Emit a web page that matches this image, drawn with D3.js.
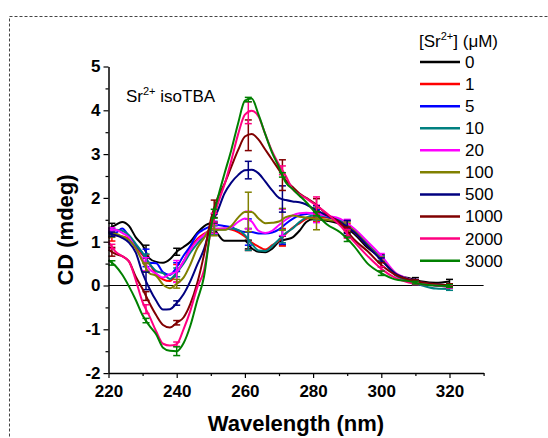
<!DOCTYPE html>
<html>
<head>
<meta charset="utf-8">
<script src="https://cdn.jsdelivr.net/npm/d3@7"></script>
<style>
  body { margin: 0; background: #fff; }
  svg { display: block; }
  text { font-family: Arial, "Liberation Sans", sans-serif; }
</style>
</head>
<body>
<svg id="chart" width="548" height="438"></svg>
<script>
// wavelengths (nm) shared by every spectrum
const wavelengths = [220,222,224,226,228,230,232,234,236,238,240,242,244,246,248,250,252,254,256,258,260,262,264,266,268,270,272,274,276,278,280,284,288,292,296,300,304,308,312,316,320];

const concentrations = ["0","1","5","10","20","100","500","1000","2000","3000"];
const colors = ["#000000","#ff0000","#0000ff","#008080","#ff00ff","#808000","#000080","#800000","#ff0080","#008000"];

// CD (mdeg), one array per [Sr2+]
const cd0    = [1.30,1.38,1.45,1.36,1.10,0.92,0.62,0.54,0.52,0.60,0.77,0.88,1.00,1.20,1.35,1.42,1.18,1.02,1.02,1.02,1.02,0.85,0.77,0.76,0.84,1.00,1.05,1.10,1.25,1.45,1.51,1.48,1.40,1.18,0.86,0.62,0.26,0.17,0.09,0.06,0.09];
const cd1    = [1.08,1.15,1.12,1.06,0.88,0.70,0.50,0.26,0.14,0.10,0.28,0.55,0.85,1.06,1.18,1.26,1.28,1.30,1.28,1.22,1.12,0.98,0.89,0.82,0.92,1.02,1.18,1.32,1.42,1.52,1.56,1.55,1.45,1.22,0.90,0.60,0.26,0.12,0.05,0.00,-0.02];
const cd5    = [1.23,1.20,1.30,1.12,0.92,0.74,0.52,0.51,0.30,0.24,0.42,0.68,0.90,1.17,1.28,1.35,1.38,1.36,1.33,1.26,1.22,1.22,1.19,1.19,1.21,1.28,1.41,1.52,1.60,1.63,1.65,1.57,1.48,1.28,0.94,0.62,0.25,0.12,0.05,0.00,-0.02];
const cd10   = [1.23,1.27,1.25,1.15,0.95,0.74,0.50,0.33,0.28,0.15,0.30,0.50,0.75,0.95,1.12,1.25,1.28,1.28,1.30,1.27,1.15,0.95,0.80,0.79,0.90,1.05,1.20,1.30,1.45,1.55,1.60,1.58,1.48,1.28,0.95,0.62,0.24,0.10,0.00,-0.07,-0.08];
const cd20   = [1.27,1.27,1.20,1.10,0.84,0.60,0.37,0.27,0.18,0.26,0.32,0.55,0.82,1.02,1.15,1.28,1.30,1.30,1.33,1.45,1.53,1.46,1.25,1.20,1.25,1.38,1.50,1.60,1.65,1.66,1.65,1.59,1.52,1.30,1.00,0.68,0.30,0.15,0.06,0.01,-0.02];
const cd100  = [1.12,1.18,1.12,1.04,0.85,0.55,0.28,0.22,0.02,-0.06,0.04,0.18,0.48,0.85,1.08,1.30,1.27,1.27,1.36,1.55,1.68,1.68,1.53,1.42,1.43,1.46,1.56,1.60,1.57,1.55,1.53,1.50,1.45,1.25,0.92,0.60,0.28,0.14,0.06,0.02,-0.01];
const cd500  = [1.19,1.15,1.09,0.98,0.75,0.28,-0.07,-0.35,-0.55,-0.54,-0.40,-0.20,0.10,0.47,0.83,1.36,1.70,2.10,2.35,2.52,2.63,2.64,2.56,2.37,2.17,2.00,1.95,1.92,1.90,1.85,1.76,1.60,1.45,1.22,0.90,0.58,0.28,0.14,0.07,0.03,0.01];
const cd1000 = [0.82,0.72,0.67,0.55,0.20,-0.08,-0.40,-0.68,-0.90,-0.96,-0.85,-0.73,-0.42,0.05,0.70,1.50,2.00,2.32,2.71,3.09,3.40,3.46,3.33,3.10,2.87,2.64,2.40,2.25,2.10,2.00,1.90,1.63,1.42,1.05,0.78,0.47,0.25,0.13,0.07,0.03,0.01];
const cd2000 = [1.00,0.78,0.67,0.55,0.12,-0.38,-0.70,-1.05,-1.33,-1.37,-1.34,-1.00,-0.58,-0.05,0.35,1.25,1.85,2.30,2.85,3.45,3.90,3.99,3.86,3.45,3.06,2.76,2.50,2.20,2.08,1.99,1.88,1.65,1.36,1.00,0.67,0.38,0.18,0.07,0.03,0.00,-0.02];
const cd3000 = [0.58,0.45,0.25,-0.02,-0.33,-0.68,-0.92,-1.12,-1.42,-1.49,-1.50,-1.32,-0.92,-0.35,0.20,1.30,1.98,2.55,3.09,3.70,4.22,4.27,3.90,3.45,3.03,2.70,2.35,2.20,2.05,1.90,1.72,1.40,1.21,0.90,0.50,0.28,0.14,0.10,0.03,0.00,-0.01];
const spectra = [cd0, cd1, cd5, cd10, cd20, cd100, cd500, cd1000, cd2000, cd3000];

// error bars (half height, mdeg) at these wavelengths
const errWavelengths = [221,231,240,251,261,271,281,290,300,310,320];
const err0    = [0.08,0.15,0.08,0.10,0.10,0.10,0.05,0.08,0.08,0.05,0.05];
const err1    = [0.10,0.10,0.20,0.10,0.25,0.20,0.10,0.08,0.05,0.03,0.03];
const err5    = [0.05,0.20,0.10,0.10,0.30,0.40,0.10,0.10,0.05,0.03,0.03];
const err10   = [0.05,0.10,0.10,0.10,0.25,0.15,0.10,0.10,0.05,0.03,0.03];
const err20   = [0.05,0.15,0.25,0.10,0.20,0.30,0.20,0.10,0.05,0.03,0.03];
const err100  = [0.05,0.10,0.10,0.15,0.45,0.25,0.25,0.10,0.05,0.03,0.03];
const err500  = [0.05,0.20,0.05,0.10,0.20,0.30,0.10,0.15,0.05,0.03,0.03];
const err1000 = [0.10,0.10,0.05,0.20,0.35,0.35,0.15,0.10,0.05,0.03,0.03];
const err2000 = [0.05,0.10,0.05,0.10,0.25,0.10,0.20,0.10,0.05,0.03,0.03];
const err3000 = [0.05,0.05,0.10,0.10,0.05,0.05,0.05,0.05,0.05,0.03,0.03];
const errors = [err0, err1, err5, err10, err20, err100, err500, err1000, err2000, err3000];

const xTicks = [220,240,260,280,300,320];
const xMinor = [230,250,270,290,310,330];
const yTicks = [-2,-1,0,1,2,3,4,5];
const yMinor = [-1.5,-0.5,0.5,1.5,2.5,3.5,4.5];

const svg = d3.select('#chart');

// dashed frame round the figure
svg.append('rect')
    .attr('x', 9.5).attr('y', 16.5)
    .attr('width', 560).attr('height', 440)
    .attr('fill', 'none')
    .attr('stroke', '#444')
    .attr('stroke-width', 1)
    .attr('stroke-dasharray', '3,2');

const x = d3.scaleLinear().domain([220, 330]).range([108.5, 483.6]);
const y = d3.scaleLinear().domain([-2, 5]).range([373.1, 66.5]);

// zero line
svg.append('line')
    .attr('x1', x(220)).attr('x2', x(330))
    .attr('y1', y(0)).attr('y2', y(0))
    .attr('stroke', '#000').attr('stroke-width', 1.2);

// spectra
const line = d3.line()
    .x((d, i) => x(wavelengths[i]))
    .y(d => y(d))
    .curve(d3.curveMonotoneX);

const bisect = d3.bisector(d => d).left;
function valueAt(arr, w) {
    const i = Math.min(Math.max(bisect(wavelengths, w), 1), wavelengths.length - 1);
    const w0 = wavelengths[i - 1], w1 = wavelengths[i];
    const t = (w - w0) / (w1 - w0);
    return arr[i - 1] + t * (arr[i] - arr[i - 1]);
}

spectra.forEach((s, k) => {
    svg.append('path')
        .attr('d', line(s))
        .attr('fill', 'none')
        .attr('stroke', colors[k])
        .attr('stroke-width', 2)
        .attr('stroke-linejoin', 'round');

    const g = svg.append('g').attr('stroke', colors[k]).attr('stroke-width', 1.5);
    errWavelengths.forEach((w, j) => {
        const v = valueAt(s, w);
        const e = errors[k][j];
        const cx = x(w);
        g.append('line').attr('x1', cx).attr('x2', cx).attr('y1', y(v - e)).attr('y2', y(v + e));
        g.append('line').attr('x1', cx - 3.5).attr('x2', cx + 3.5).attr('y1', y(v - e)).attr('y2', y(v - e));
        g.append('line').attr('x1', cx - 3.5).attr('x2', cx + 3.5).attr('y1', y(v + e)).attr('y2', y(v + e));
    });
});

// axes
const xAxis = svg.append('g')
    .attr('transform', 'translate(0,' + y(-2) + ')')
    .call(d3.axisBottom(x).tickValues(xTicks).tickSize(5).tickSizeOuter(0).tickPadding(7).tickFormat(d => String(d)));
svg.append('g')
    .attr('transform', 'translate(0,' + y(-2) + ')')
    .call(d3.axisBottom(x).tickValues(xMinor).tickSize(3).tickSizeOuter(0).tickFormat(''))
    .select('.domain').remove();

const yAxis = svg.append('g')
    .attr('transform', 'translate(' + x(220) + ',0)')
    .call(d3.axisLeft(y).tickValues(yTicks).tickSize(5).tickSizeOuter(0).tickPadding(3).tickFormat(d => String(d)));
svg.append('g')
    .attr('transform', 'translate(' + x(220) + ',0)')
    .call(d3.axisLeft(y).tickValues(yMinor).tickSize(3).tickSizeOuter(0).tickFormat(''))
    .select('.domain').remove();

svg.selectAll('.domain').attr('stroke-width', 1.5);
svg.selectAll('.tick line').attr('stroke-width', 1.2);
svg.selectAll('.tick text')
    .attr('font-family', 'Arial, "Liberation Sans", sans-serif')
    .attr('font-size', 17)
    .attr('font-weight', 'bold')
    .attr('fill', '#000');

// axis titles
svg.append('text')
    .attr('x', 296).attr('y', 431)
    .attr('text-anchor', 'middle')
    .attr('font-size', 22).attr('font-weight', 'bold')
    .text('Wavelength (nm)');
svg.append('text')
    .attr('transform', 'translate(73,230) rotate(-90)')
    .attr('text-anchor', 'middle')
    .attr('font-size', 22).attr('font-weight', 'bold')
    .text('CD (mdeg)');

// annotation
const ann = svg.append('text').attr('x', 126).attr('y', 102).attr('font-size', 17);
ann.append('tspan').text('Sr');
ann.append('tspan').attr('font-size', 11).attr('dy', -7).text('2+');
ann.append('tspan').attr('dy', 7).text(' isoTBA');

// legend
const lt = svg.append('text').attr('x', 419).attr('y', 47).attr('font-size', 17);
lt.append('tspan').text('[Sr');
lt.append('tspan').attr('font-size', 11).attr('dy', -7).text('2+');
lt.append('tspan').attr('dy', 7).text('] (\u03bcM)');

const leg = svg.append('g');
concentrations.forEach((c, k) => {
    const ly = 62 + k * 22.07;
    leg.append('line')
        .attr('x1', 420).attr('x2', 460)
        .attr('y1', ly).attr('y2', ly)
        .attr('stroke', colors[k]).attr('stroke-width', 2.5);
    leg.append('text')
        .attr('x', 465).attr('y', ly + 6)
        .attr('font-size', 17)
        .text(c);
});
</script>
</body>
</html>
